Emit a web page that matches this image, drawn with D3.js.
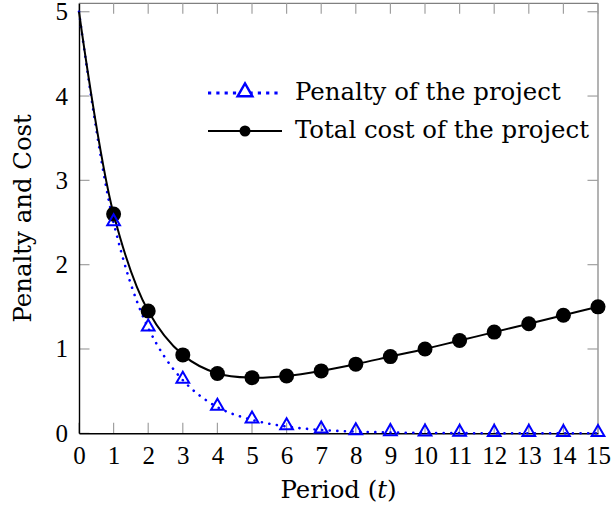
<!DOCTYPE html>
<html lang="en">
<head>
    <meta charset="utf-8">
    <title>penalty.html</title>
    <script type="text/javascript" src="https://cdnjs.cloudflare.com/ajax/libs/d3/7.8.5/d3.min.js"></script>
    <style>
      body { margin: 0; background: #fff; }
      text { fill: #000; }
      .label { font-family: "DejaVu Serif", serif; font-size: 24.4px; }
      .tick text { font-family: "Liberation Serif", serif; font-size: 25px; }
    </style>
</head>
<body>
    <script type="text/javascript">
      //data
      var periods = [0, 1, 2, 3, 4, 5, 6, 7, 8, 9, 10, 11, 12, 13, 14, 15];
      var penalty = [5, 2.5, 1.25, 0.63, 0.31, 0.16, 0.08, 0.04, 0.02, 0.01, 0.005, 0.002, 0.001, 0.001, 0, 0];
      var totalCost = [5, 2.6, 1.45, 0.93, 0.71, 0.66, 0.68, 0.74, 0.82, 0.91, 1.0, 1.1, 1.2, 1.3, 1.4, 1.5];
      var xTicks = d3.range(0, 16);
      var yTicks = [0, 1, 2, 3, 4, 5];
      var seriesNames = ["Penalty of the project", "Total cost of the project"];

      //initialize the dimensions
      var width = 612, height = 508,
          box = {left: 79, right: 598, top: 3.3, bottom: 433.3},
          tickLen = 10.5;

      var svg = d3.select("body")
                  .append("svg")
                  .attr("width", width)
                  .attr("height", height);

      var xScale = d3.scaleLinear().domain([0, 15]).range([box.left, box.right]);
      var yScale = d3.scaleLinear().domain([0, 5.1]).range([box.bottom, box.top]);

      //frame, top and right are gray
      svg.append("line").attr("x1", box.left).attr("x2", box.right).attr("y1", box.top).attr("y2", box.top)
         .attr("stroke", "#808080").attr("stroke-width", 1.2);
      svg.append("line").attr("x1", box.right).attr("x2", box.right).attr("y1", box.top).attr("y2", box.bottom)
         .attr("stroke", "#808080").attr("stroke-width", 1.2);

      //inner gray ticks on all four sides
      var tickG = svg.append("g").attr("stroke", "#a0a0a0").attr("stroke-width", 1.2);
      xTicks.forEach(function(t) {
        tickG.append("line").attr("x1", xScale(t)).attr("x2", xScale(t))
             .attr("y1", box.bottom).attr("y2", box.bottom - tickLen);
        tickG.append("line").attr("x1", xScale(t)).attr("x2", xScale(t))
             .attr("y1", box.top).attr("y2", box.top + tickLen);
      });
      yTicks.forEach(function(t) {
        tickG.append("line").attr("x1", box.left).attr("x2", box.left + tickLen)
             .attr("y1", yScale(t)).attr("y2", yScale(t));
        tickG.append("line").attr("x1", box.right).attr("x2", box.right - tickLen)
             .attr("y1", yScale(t)).attr("y2", yScale(t));
      });

      //bottom and left axes drawn with d3 axis, ticks hidden (drawn above)
      var xAxis = svg.append("g")
         .attr("transform", "translate(0," + box.bottom + ")")
         .call(d3.axisBottom(xScale).tickValues(xTicks).tickSize(0).tickPadding(13).tickFormat(d3.format("d")));
      var yAxis = svg.append("g")
         .attr("transform", "translate(" + box.left + ",0)")
         .call(d3.axisLeft(yScale).tickValues(yTicks).tickSize(0).tickPadding(11).tickFormat(d3.format("d")));
      [xAxis, yAxis].forEach(function(a) {
        a.attr("font-family", null).attr("font-size", null);
        a.select(".domain").attr("stroke", "#000").attr("stroke-width", 1.4);
        a.selectAll("text").attr("fill", "#000");
      });
      xAxis.selectAll("text").attr("dy", "0.72em");

      //axis labels
      svg.append("text")
         .attr("class", "label")
         .attr("x", (box.left + box.right) / 2)
         .attr("y", 498)
         .attr("text-anchor", "middle")
         .html("Period (<tspan font-style='italic'>t</tspan>)");
      svg.append("text")
         .attr("class", "label")
         .attr("transform", "translate(31," + (box.top + box.bottom) / 2 + ") rotate(-90)")
         .attr("text-anchor", "middle")
         .text("Penalty and Cost");

      var smooth = d3.line()
          .x(function(d, i) { return xScale(periods[i]); })
          .y(function(d) { return yScale(d); })
          .curve(d3.curveCatmullRom);

      //penalty, blue dotted
      svg.append("path")
         .attr("d", smooth(penalty))
         .attr("fill", "none")
         .attr("stroke", "#0000ff")
         .attr("stroke-width", 2.6)
         .attr("stroke-linecap", "round")
         .attr("stroke-dasharray", "0.1 7.5");

      //total cost, black solid
      svg.append("path")
         .attr("d", smooth(totalCost))
         .attr("fill", "none")
         .attr("stroke", "#000")
         .attr("stroke-width", 2);

      var tri = d3.symbol().type(d3.symbolTriangle).size(70);

      //markers from t = 1
      svg.selectAll(".cost")
         .data(totalCost.slice(1))
         .enter().append("circle")
         .attr("class", "cost")
         .attr("cx", function(d, i) { return xScale(periods[i + 1]); })
         .attr("cy", function(d) { return yScale(d); })
         .attr("r", 7.5)
         .attr("fill", "#000");

      svg.selectAll(".pen")
         .data(penalty.slice(1))
         .enter().append("path")
         .attr("class", "pen")
         .attr("d", tri)
         .attr("transform", function(d, i) { return "translate(" + xScale(periods[i + 1]) + "," + (yScale(d) - 1) + ")"; })
         .attr("fill", "none")
         .attr("stroke", "#0000ff")
         .attr("stroke-width", 2);

      //legend, no frame
      var legend = svg.append("g");
      var rows = [93, 131];
      legend.append("line").attr("x1", 208).attr("x2", 280).attr("y1", rows[0]).attr("y2", rows[0])
            .attr("stroke", "#0000ff").attr("stroke-width", 3.2)
            .attr("stroke-dasharray", "3.2 5.1");
      legend.append("path").attr("d", d3.symbol().type(d3.symbolTriangle).size(95))
            .attr("transform", "translate(245," + (rows[0] - 1) + ")")
            .attr("fill", "#fff").attr("stroke", "#0000ff").attr("stroke-width", 2.4);
      legend.append("line").attr("x1", 208).attr("x2", 282).attr("y1", rows[1]).attr("y2", rows[1])
            .attr("stroke", "#000").attr("stroke-width", 2);
      legend.append("circle").attr("cx", 245).attr("cy", rows[1]).attr("r", 5.5).attr("fill", "#000");
      seriesNames.forEach(function(name, i) {
        legend.append("text")
              .attr("class", "label")
              .attr("x", 295)
              .attr("y", rows[i] + 7)
              .text(name);
      });
    </script>
</body>
</html>
